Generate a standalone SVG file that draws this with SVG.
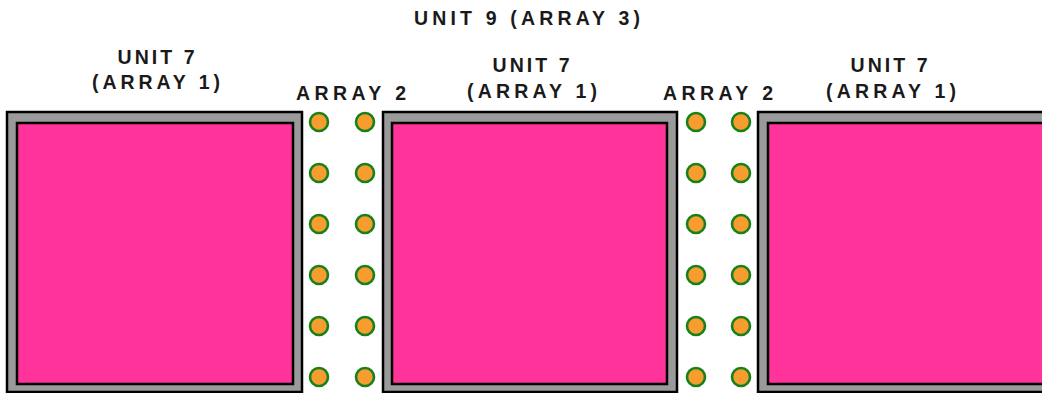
<svg xmlns="http://www.w3.org/2000/svg" width="1042" height="393" viewBox="0 0 1042 393">
<style>
.outer{fill:#9a9a9a;stroke:#000;stroke-width:2.5}
.inner{fill:#ff3399;stroke:#000;stroke-width:2.5}
.dot{fill:#f79d30;stroke:#18801a;stroke-width:2.6}
text{font-family:"Liberation Sans",Arial,sans-serif;font-size:19.5px;font-weight:bold;fill:#1a1a1a;text-anchor:middle}
</style>
<rect width="1042" height="393" fill="#fff"/>
<g id="title"><text x="527" y="25" textLength="226" lengthAdjust="spacing">UNIT 9 (ARRAY 3)</text></g>
<g id="unit7-a">
<rect class="outer" x="7" y="112" width="295" height="280"/>
<rect class="inner" x="17" y="123" width="276" height="261"/>
<text x="156" y="64" textLength="77" lengthAdjust="spacing">UNIT 7</text>
<text x="156" y="89" textLength="128" lengthAdjust="spacing">(ARRAY 1)</text>
</g>
<g id="unit7-b">
<rect class="outer" x="383" y="112" width="294" height="280"/>
<rect class="inner" x="392" y="123" width="275" height="261"/>
<text x="531" y="72" textLength="77" lengthAdjust="spacing">UNIT 7</text>
<text x="532" y="98" textLength="130" lengthAdjust="spacing">(ARRAY 1)</text>
</g>
<g id="unit7-c">
<rect class="outer" x="758" y="112" width="300" height="280"/>
<rect class="inner" x="768" y="123" width="290" height="261"/>
<text x="889" y="72" textLength="77" lengthAdjust="spacing">UNIT 7</text>
<text x="891" y="98" textLength="130" lengthAdjust="spacing">(ARRAY 1)</text>
</g>
<g id="array2-a">
<text x="351" y="100" textLength="110" lengthAdjust="spacing">ARRAY 2</text>
<circle class="dot" cx="319" cy="122" r="9"/><circle class="dot" cx="365" cy="122" r="9"/>
<circle class="dot" cx="319" cy="173" r="9"/><circle class="dot" cx="365" cy="173" r="9"/>
<circle class="dot" cx="319" cy="224" r="9"/><circle class="dot" cx="365" cy="224" r="9"/>
<circle class="dot" cx="319" cy="275" r="9"/><circle class="dot" cx="365" cy="275" r="9"/>
<circle class="dot" cx="319" cy="326" r="9"/><circle class="dot" cx="365" cy="326" r="9"/>
<circle class="dot" cx="319" cy="377" r="9"/><circle class="dot" cx="365" cy="377" r="9"/>
</g>
<g id="array2-b">
<text x="718" y="100" textLength="110" lengthAdjust="spacing">ARRAY 2</text>
<circle class="dot" cx="696" cy="122" r="9"/><circle class="dot" cx="741" cy="122" r="9"/>
<circle class="dot" cx="696" cy="173" r="9"/><circle class="dot" cx="741" cy="173" r="9"/>
<circle class="dot" cx="696" cy="224" r="9"/><circle class="dot" cx="741" cy="224" r="9"/>
<circle class="dot" cx="696" cy="275" r="9"/><circle class="dot" cx="741" cy="275" r="9"/>
<circle class="dot" cx="696" cy="326" r="9"/><circle class="dot" cx="741" cy="326" r="9"/>
<circle class="dot" cx="696" cy="377" r="9"/><circle class="dot" cx="741" cy="377" r="9"/>
</g>
<g id="connectors"/>
</svg>
